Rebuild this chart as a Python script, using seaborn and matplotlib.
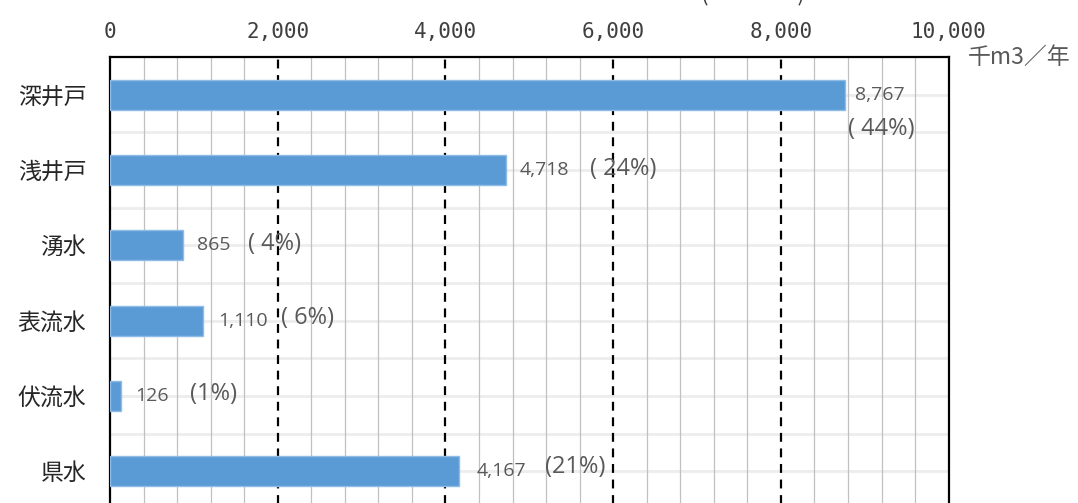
import matplotlib
matplotlib.use("Agg")
import matplotlib.pyplot as plt
import seaborn as sns
import pandas as pd
import numpy as np

categories = ["深井戸", "浅井戸", "湧水", "表流水", "伏流水", "県水"]
volumes = [8767, 4718, 865, 1110, 126, 4167]
value_labels = ["8,767", "4,718", "865", "1,110", "126", "4,167"]
pct_labels = ["( 44%)", "( 24%)", "( 4%)", "( 6%)", "(1%)", "(21%)"]
x_ticks = [0, 2000, 4000, 6000, 8000, 10000]
x_tick_labels = ["0", "2,000", "4,000", "6,000", "8,000", "10,000"]

# where the labels sit (data coords)
value_x = [8880, 4890, 1040, 1290, 300, 4375]
value_y = [0.0, 0.0, 0.0, 0.0, 0.0, 0.0]
pct_x = [8800, 5720, 1645, 2040, 955, 5185]
pct_y = [0.46, -0.02, -0.02, -0.03, -0.03, -0.06]

sns.set_style("white")
plt.rcParams["font.family"] = ["Noto Sans CJK JP", "DejaVu Sans"]

df = pd.DataFrame({"cat": categories, "vol": volumes})

fig = plt.figure(figsize=(10.78, 5.03), dpi=100)
ax = fig.add_axes([0.102, -0.012, 0.778, 0.8986])

sns.barplot(data=df, x="vol", y="cat", orient="h", width=0.4,
            color="#5B9BD5", saturation=1, edgecolor="#8FBCE6",
            linewidth=1, ax=ax, zorder=3)

ax.set_xlim(0, 10000)
ax.set_ylim(len(categories) - 0.5, -0.5)

# grid
for x in np.arange(400, 10000, 400):
    if x % 2000 == 0:
        ax.axvline(x, color="black", lw=1.6, ls=(0, (4, 3)), zorder=2)
    else:
        ax.axvline(x, color="#C0C0C0", lw=0.9, zorder=1)
for y in np.arange(0, len(categories), 0.5):
    ax.axhline(y, color="#EDEDED", lw=2, zorder=0.5)

for i in range(len(categories)):
    ax.text(value_x[i], i + value_y[i], value_labels[i], fontsize=14,
            color="#595959", va="center", ha="left", zorder=4,
            family=["Open Sans", "DejaVu Sans"])
    ax.text(pct_x[i], i + pct_y[i], pct_labels[i], fontsize=17,
            color="#595959", va="center", ha="left", zorder=4,
            family=["Open Sans", "DejaVu Sans"])

ax.xaxis.tick_top()
ax.set_xticks(x_ticks)
ax.set_xticklabels(x_tick_labels, fontsize=15, color="#404040",
                   family=["DejaVu Sans Mono", "DejaVu Sans"])
ax.tick_params(axis="x", length=0, pad=11)
ax.set_yticks(range(len(categories)))
ax.set_yticklabels(categories, fontsize=16.5, color="#262626")
ax.set_yticks(np.arange(0.5, len(categories), 1), minor=True)
ax.tick_params(axis="y", which="both", direction="in", length=6, width=1.6,
               color="black", pad=17)
ax.set_xlabel("")
ax.set_ylabel("")

for s in ax.spines.values():
    s.set_color("black")
    s.set_linewidth(1.6)
    s.set_visible(True)

fig.text(0.898, 0.885, "千m3／年", fontsize=16.5, color="#595959",
         ha="left", va="center")
fig.text(0.698, 1.012, "(　　　　)", fontsize=16, color="#404040",
         ha="center", va="center")

fig.savefig("out.png", dpi=100)
